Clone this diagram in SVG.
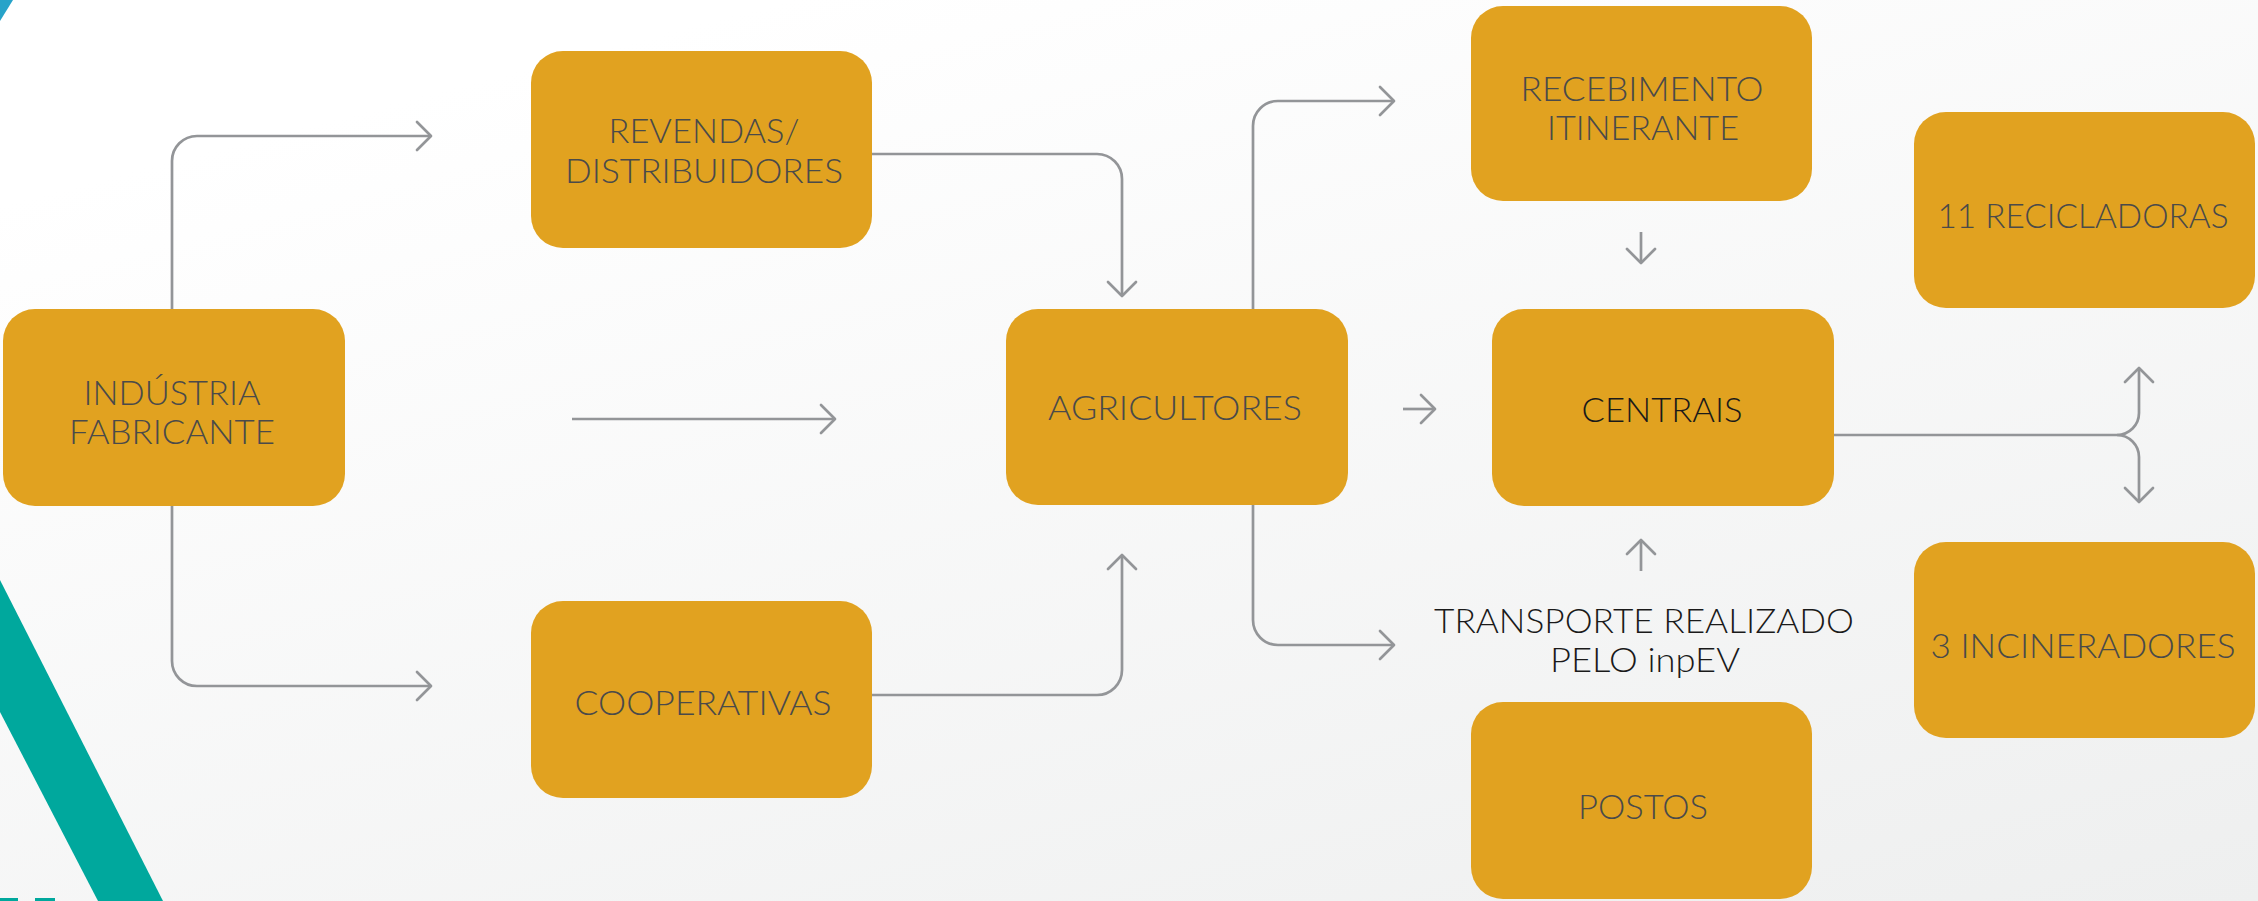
<svg xmlns="http://www.w3.org/2000/svg" width="2258" height="901" viewBox="0 0 2258 901">
<defs>
<linearGradient id="bg" x1="0.35" y1="0" x2="1" y2="1">
<stop offset="0" stop-color="#ffffff"/>
<stop offset="1" stop-color="#eeefef"/>
</linearGradient>
<marker id="arr" markerUnits="userSpaceOnUse" viewBox="-17 -17 20 34" markerWidth="20" markerHeight="34" refX="0" refY="0" orient="auto">
<path d="M-14,-14 L0,0 L-14,14" fill="none" stroke="#939598" stroke-width="2.7" stroke-linecap="round" stroke-linejoin="round"/>
</marker>
</defs>
<style>
.box{fill:#E1A220;}
.t{font-family:Lato,"Liberation Sans",sans-serif;font-weight:300;font-size:34px;fill:#4a4a4a;text-anchor:middle;}
.d{fill:#1a1a1a;}
.c{fill:none;stroke:#939598;stroke-width:2.7;marker-end:url(#arr);}
</style>
<rect width="2258" height="901" fill="url(#bg)"/>
<g id="decor">
<polygon points="0,580 163,901 98,901 0,712" fill="#00A89D"/>
<polygon points="0,0 13,0 0,21" fill="#27A3C9"/>
<rect x="0" y="898" width="18" height="3" fill="#00A89D"/>
<rect x="35" y="898" width="20" height="3" fill="#00A89D"/>
</g>
<g id="connectors">
<path class="c" d="M172 309 V161 A25 25 0 0 1 197 136 H431"/>
<path class="c" d="M172 506 V661 A25 25 0 0 0 197 686 H431"/>
<path class="c" d="M572 419 H835"/>
<path class="c" d="M872 154 H1097 A25 25 0 0 1 1122 179 V296"/>
<path class="c" d="M872 695 H1097 A25 25 0 0 0 1122 670 V555"/>
<path class="c" d="M1253 309 V126 A25 25 0 0 1 1278 101 H1394"/>
<path class="c" d="M1253 505 V620 A25 25 0 0 0 1278 645 H1394"/>
<path class="c" d="M1403 409 H1435"/>
<path class="c" d="M1641 232 V263"/>
<path class="c" d="M1641 571 V540"/>
<path class="c" d="M1834 435 H2117 A22 22 0 0 0 2139 413 V368"/>
<path class="c" d="M2117 435 A22 22 0 0 1 2139 457 V502"/>
</g>
<g id="industria">
<rect class="box" x="3" y="309" width="342" height="197" rx="32"/>
<text class="t" x="172" y="405" textLength="177" lengthAdjust="spacingAndGlyphs">INDÚSTRIA</text>
<text class="t" x="172" y="444" textLength="206" lengthAdjust="spacingAndGlyphs">FABRICANTE</text>
</g>
<g id="revendas">
<rect class="box" x="531" y="51" width="341" height="197" rx="32"/>
<text class="t" x="704" y="143" textLength="191" lengthAdjust="spacingAndGlyphs">REVENDAS/</text>
<text class="t" x="704" y="183" textLength="278" lengthAdjust="spacingAndGlyphs">DISTRIBUIDORES</text>
</g>
<g id="cooperativas">
<rect class="box" x="531" y="601" width="341" height="197" rx="32"/>
<text class="t" x="703" y="715" textLength="257" lengthAdjust="spacingAndGlyphs">COOPERATIVAS</text>
</g>
<g id="agricultores">
<rect class="box" x="1006" y="309" width="342" height="196" rx="32"/>
<text class="t" x="1175" y="420" textLength="254" lengthAdjust="spacingAndGlyphs">AGRICULTORES</text>
</g>
<g id="recebimento">
<rect class="box" x="1471" y="6" width="341" height="195" rx="32"/>
<text class="t" x="1642" y="101" textLength="243" lengthAdjust="spacingAndGlyphs">RECEBIMENTO</text>
<text class="t" x="1643" y="140" textLength="192" lengthAdjust="spacingAndGlyphs">ITINERANTE</text>
</g>
<g id="centrais">
<rect class="box" x="1492" y="309" width="342" height="197" rx="32"/>
<text class="t d" x="1662" y="422" textLength="161" lengthAdjust="spacingAndGlyphs">CENTRAIS</text>
</g>
<g id="transporte">
<text class="t d" x="1644" y="633" textLength="420" lengthAdjust="spacingAndGlyphs">TRANSPORTE REALIZADO</text>
<text class="t d" x="1645" y="672" textLength="190" lengthAdjust="spacingAndGlyphs">PELO inpEV</text>
</g>
<g id="postos">
<rect class="box" x="1471" y="702" width="341" height="197" rx="32"/>
<text class="t" x="1643" y="819" textLength="130" lengthAdjust="spacingAndGlyphs">POSTOS</text>
</g>
<g id="recicladoras">
<rect class="box" x="1914" y="112" width="341" height="196" rx="32"/>
<text class="t" x="2083" y="228" textLength="291" lengthAdjust="spacingAndGlyphs">11 RECICLADORAS</text>
</g>
<g id="incineradores">
<rect class="box" x="1914" y="542" width="341" height="196" rx="32"/>
<text class="t" x="2083" y="658" textLength="305" lengthAdjust="spacingAndGlyphs">3 INCINERADORES</text>
</g>
</svg>
